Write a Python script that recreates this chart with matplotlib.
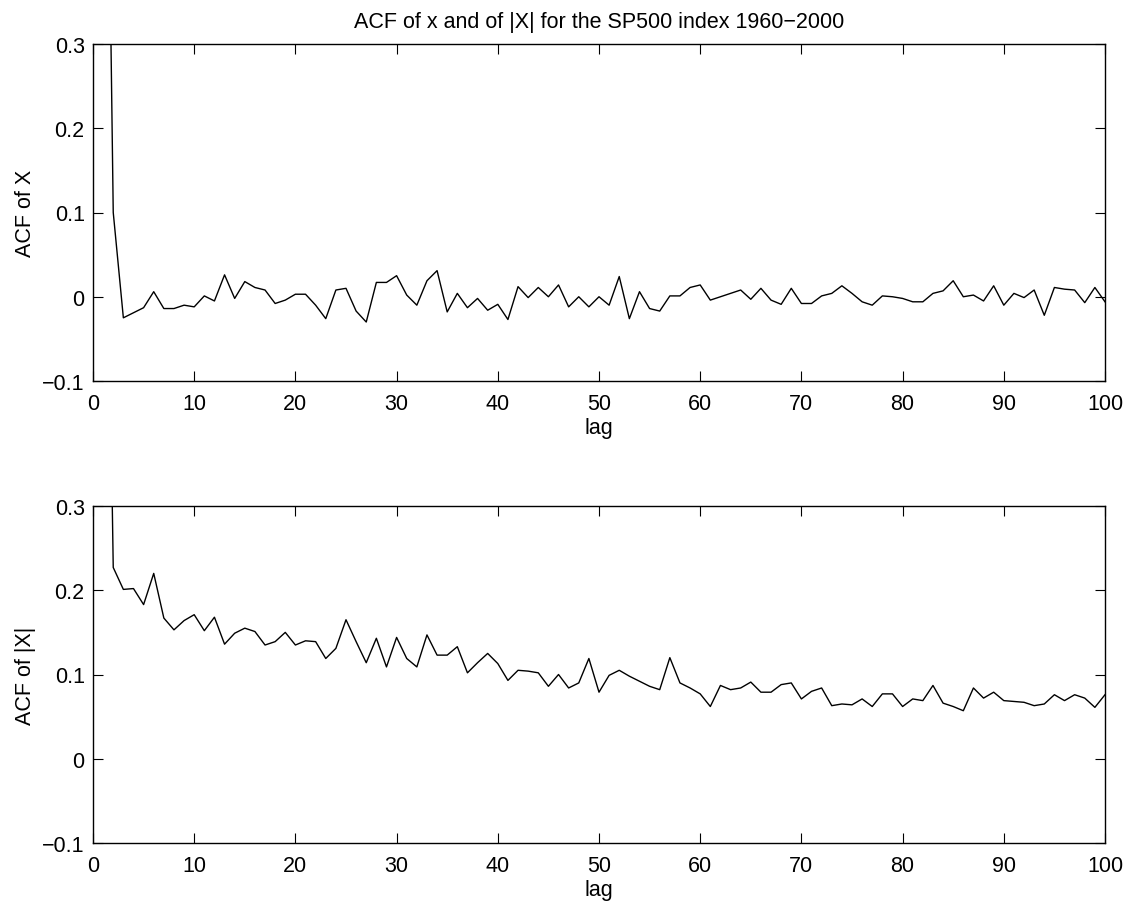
import matplotlib
matplotlib.use("Agg")
import matplotlib.pyplot as plt
import numpy as np

plt.rcParams['font.family'] = ['Liberation Sans', 'DejaVu Sans']

lags = list(range(1, 101))

acf_x = [1.0, 0.100, -0.025, -0.019, -0.013, 0.006, -0.014, -0.014, -0.010, -0.012,
         0.001, -0.005, 0.026, -0.002, 0.018, 0.011, 0.008, -0.008, -0.004, 0.003,
         0.003, -0.010, -0.026, 0.008, 0.010, -0.017, -0.030, 0.017, 0.017, 0.025,
         0.002, -0.010, 0.019, 0.031, -0.018, 0.004, -0.013, -0.002, -0.016, -0.009,
         -0.027, 0.012, -0.001, 0.011, 0.000, 0.014, -0.012, 0.000, -0.012, 0.000,
         -0.010, 0.024, -0.026, 0.006, -0.014, -0.017, 0.001, 0.001, 0.011, 0.014,
         -0.004, 0.000, 0.004, 0.008, -0.003, 0.010, -0.004, -0.009, 0.010, -0.008,
         -0.008, 0.001, 0.004, 0.013, 0.004, -0.006, -0.010, 0.001, 0.000, -0.002,
         -0.006, -0.006, 0.004, 0.007, 0.019, 0.000, 0.002, -0.005, 0.013, -0.010,
         0.004, -0.001, 0.008, -0.022, 0.011, 0.009, 0.008, -0.007, 0.011, -0.006]

acf_abs = [1.0, 0.227, 0.201, 0.202, 0.183, 0.220, 0.167, 0.153, 0.164, 0.171,
           0.152, 0.168, 0.136, 0.149, 0.155, 0.151, 0.135, 0.139, 0.150, 0.135,
           0.140, 0.139, 0.119, 0.131, 0.165, 0.139, 0.114, 0.143, 0.109, 0.144,
           0.119, 0.109, 0.147, 0.123, 0.123, 0.133, 0.102, 0.114, 0.125, 0.113,
           0.093, 0.105, 0.104, 0.102, 0.086, 0.100, 0.084, 0.090, 0.119, 0.079,
           0.099, 0.105, 0.098, 0.092, 0.086, 0.082, 0.120, 0.090, 0.084, 0.077,
           0.062, 0.087, 0.082, 0.084, 0.091, 0.079, 0.079, 0.088, 0.090, 0.071,
           0.080, 0.084, 0.063, 0.065, 0.064, 0.071, 0.062, 0.077, 0.077, 0.062,
           0.071, 0.069, 0.087, 0.066, 0.062, 0.057, 0.084, 0.072, 0.079, 0.069,
           0.068, 0.067, 0.063, 0.065, 0.076, 0.069, 0.076, 0.072, 0.061, 0.076]

xticks = [0, 10, 20, 30, 40, 50, 60, 70, 80, 90, 100]
yticks = [-0.1, 0, 0.1, 0.2, 0.3]
ytick_labels = ['\u22120.1', '0', '0.1', '0.2', '0.3']

title = 'ACF of x and of |X| for the SP500 index 1960\u22122000'
ylabels = ['ACF of X', 'ACF of |X|']

fig = plt.figure(figsize=(11.27, 9.04), dpi=100)
ax1 = fig.add_axes([93/1127, 1-382/904, 1012/1127, 337/904])
ax2 = fig.add_axes([93/1127, 1-844/904, 1012/1127, 337/904])

fs = 15.5
for ax, data, yl in [(ax1, acf_x, ylabels[0]), (ax2, acf_abs, ylabels[1])]:
    ax.plot(lags, data, color='black', lw=1.0)
    ax.set_xlim(0, 100)
    ax.set_ylim(-0.1, 0.3)
    ax.set_xticks(xticks)
    ax.set_xticklabels([str(t) for t in xticks], fontsize=fs)
    ax.set_yticks(yticks)
    ax.set_yticklabels(ytick_labels, fontsize=fs)
    ax.tick_params(direction='in', length=7, width=0.8, top=True, right=True)
    ax.tick_params(axis='x', pad=9)
    ax.tick_params(axis='y', pad=6)
    ax.set_xlabel('lag', fontsize=fs, labelpad=2)
    ax.set_ylabel(yl, fontsize=fs)
    ax.yaxis.set_label_coords(-57/1012, 0.5)
    for s in ax.spines.values():
        s.set_linewidth(1.0)

ax1.set_title(title, fontsize=fs, pad=12)

fig.savefig('out.png', dpi=100)
